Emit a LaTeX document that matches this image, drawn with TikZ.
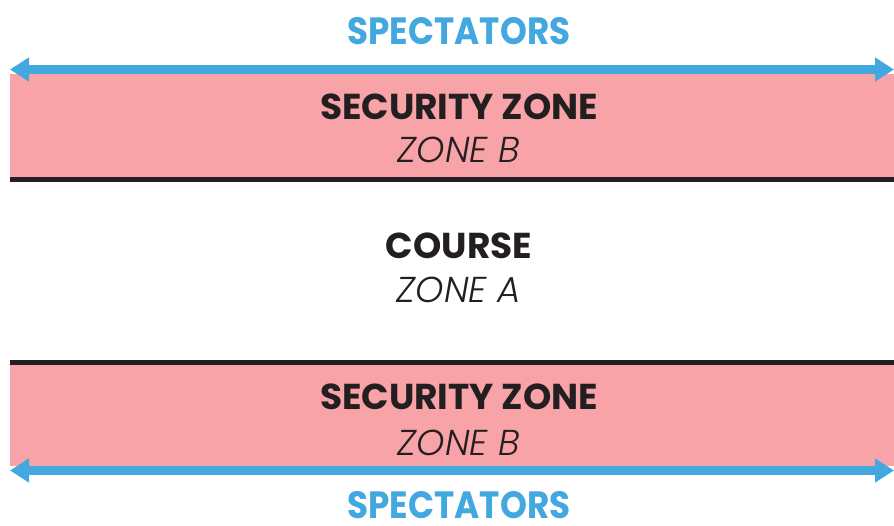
\documentclass[tikz,border=0pt]{standalone}
\usepackage{fontspec}
\setmainfont{Poppins}
\newfontfamily\headfont{Poppins}
\newfontfamily\specfont{Poppins}[FakeStretch=0.9]
\newfontfamily\zonefont{Poppins Light Italic}
\usetikzlibrary{arrows.meta}
\definecolor{specblue}{HTML}{42A8DF}
\definecolor{zonepink}{HTML}{F8A3A8}
\definecolor{inkdark}{HTML}{231F20}
\begin{document}
\begin{tikzpicture}[x=1pt, y=1pt,
		band/.style={fill=zonepink, draw=none},
		edge/.style={line width=5.5pt, inkdark},
		crowd/.style={line width=9pt, specblue, {Triangle[length=19pt,width=23pt]}-{Triangle[length=19pt,width=23pt]}},
		title/.style={anchor=base, inner sep=0pt, font=\headfont\bfseries\fontsize{36}{40}\selectfont, inkdark},
		sub/.style={anchor=base, inner sep=0pt, font=\zonefont\fontsize{36}{40}\selectfont, inkdark},
		spec/.style={anchor=base, inner sep=0pt, font=\specfont\bfseries\fontsize{38}{44}\selectfont, specblue}]
	\useasboundingbox (0,0) rectangle (894,525);
	
	% Pontos
	\coordinate (TL) at (10,455.5);
	\coordinate (TR) at (894,455.5);
	\coordinate (BL) at (10,54.5);
	\coordinate (BR) at (894,54.5);
	
	% Faixas de seguranca
	\fill[band] (10,451) rectangle (894,348);
	\fill[band] (10,160) rectangle (894,59);
	\draw[edge] (10,345.5) -- (894,345.5);
	\draw[edge] (10,162.5) -- (894,162.5);
	
	% Espectadores com setas
	\draw[crowd] (TL) -- (TR);
	\draw[crowd] (BL) -- (BR);
	
	% Textos
	\node[spec] (spectop) at (459,480) {SPECTATORS};
	\node[title] (securitytop) at (459,405) {SECURITY ZONE};
	\node[sub] (zonebtop) at (459,362) {ZONE B};
	\node[title] (course) at (459,266) {COURSE};
	\node[sub] (zonea) at (459,222) {ZONE A};
	\node[title] (securitybot) at (459,116) {SECURITY ZONE};
	\node[sub] (zonebbot) at (459,70) {ZONE B};
	\node[spec] (specbot) at (459,7) {SPECTATORS};
\end{tikzpicture}
\end{document}
